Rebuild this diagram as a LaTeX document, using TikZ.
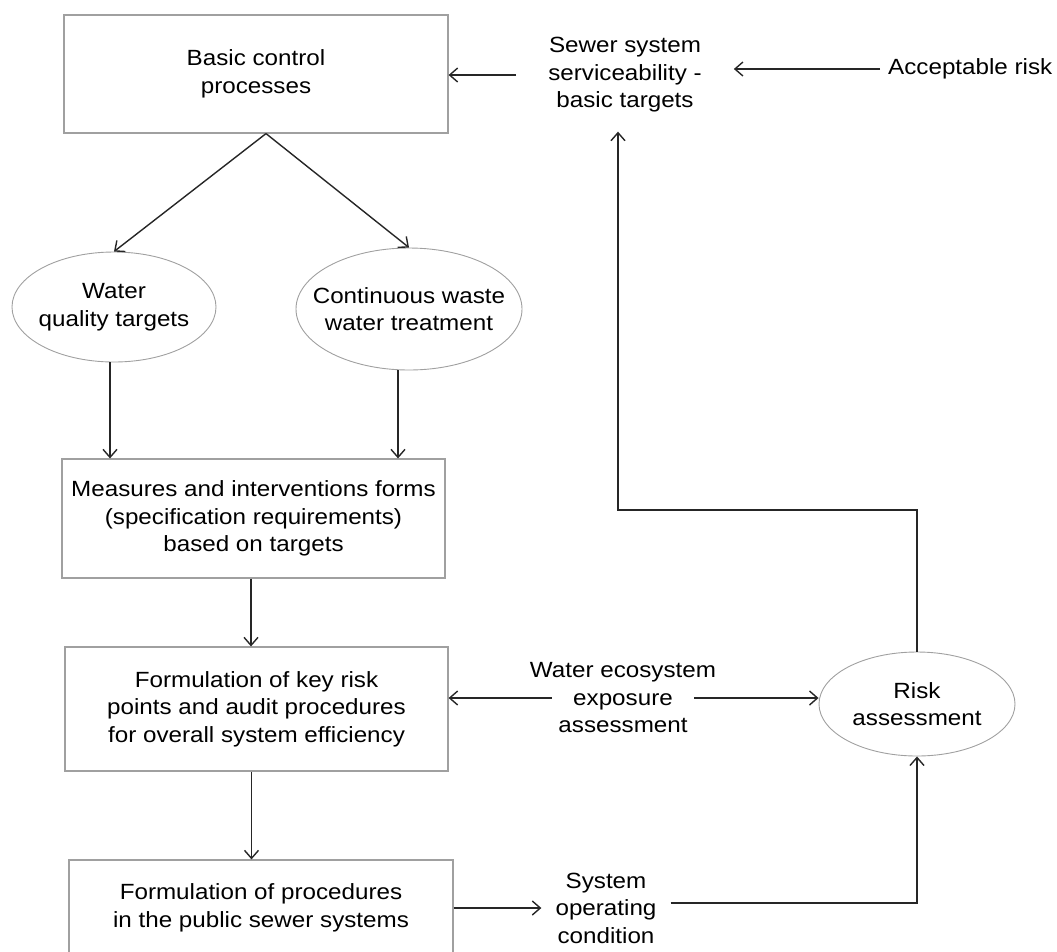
\documentclass[tikz,border=0pt]{standalone}
\usepackage{fontspec}
\setmainfont{Liberation Sans}[FakeStretch=1.1]
\usepackage{tikz}
\usetikzlibrary{arrows.meta, shapes.geometric}
\definecolor{boxgrey}{HTML}{A0A0A0}
\definecolor{arrgrey}{HTML}{262626}

\begin{document}
\begin{tikzpicture}[x=1pt, y=-1pt, font=\fontsize{22}{27.5}\selectfont,
    box/.style={draw=boxgrey, line width=1.2pt, align=center, inner sep=0pt},
    oval/.style={ellipse, draw=boxgrey, line width=0.9pt, align=center, inner xsep=-20pt, inner ysep=0pt},
    txt/.style={align=center, inner ysep=0pt},
    arr/.style={-{Straight Barb[length=8pt, width=14pt]}, line width=1.4pt, draw=arrgrey}]
      \useasboundingbox (0,0) rectangle (1057,951);
      \node[box, minimum width=384pt, minimum height=118pt] (bcp) at (256,74) {Basic control\\processes};
      \node[txt, inner xsep=32pt, inner ysep=19pt] (sew) at (625,75) {Sewer system\\serviceability -\\basic targets};
      \node[txt, anchor=west, inner xsep=8pt] (acc) at (880,69) {Acceptable risk};
      \node[oval, minimum width=204pt, minimum height=110pt] (wqt) at (114,307) {Water\\quality targets};
      \node[oval, minimum width=226pt, minimum height=122pt] (cwt) at (409,309) {Continuous waste\\water treatment};
      \node[box, minimum width=383pt, minimum height=119pt] (mif) at (253.5,518.5) {Measures and interventions forms\\(specification requirements)\\based on targets};
      \node[box, minimum width=383pt, minimum height=124pt] (krp) at (256.5,709) {Formulation of key risk\\points and audit procedures\\for overall system efficiency};
      \node[box, minimum width=384pt, minimum height=96pt] (fps) at (261,908) {Formulation of procedures\\in the public sewer systems};
      \node[txt, inner xsep=-22pt] (wea) at (623,698) {Water ecosystem\\exposure\\assessment};
      \node[oval, minimum width=196pt, minimum height=104pt] (rsk) at (917,704) {Risk\\assessment};
      \node[txt, inner xsep=14pt] (soc) at (606,908) {System\\operating\\condition};
      \coordinate (bend) at (618,510);
      \draw[arr] (sew.west) -- (sew.west -| bcp.east);
      \draw[arr] (acc.west) -- (acc.west -| sew.east);
      \draw[arr] ([xshift=10pt]bcp.south) -- (wqt.north);
      \draw[arr] ([xshift=10pt]bcp.south) -- (cwt.north);
      \draw[arr] ([xshift=-4pt]wqt.south) -- ([xshift=-4pt]wqt.south |- mif.north);
      \draw[arr] ([xshift=-11pt]cwt.south) -- ([xshift=-11pt]cwt.south |- mif.north);
      \draw[arr] ([xshift=-2.5pt]mif.south) -- ([xshift=-2.5pt]mif.south |- krp.north);
      \draw[arr] ([xshift=-5pt]krp.south) -- ([xshift=-5pt]krp.south |- fps.north);
      \draw[arr] (fps.east) -- (soc.west);
      \draw[arr] ([yshift=5pt]soc.east) -| (rsk.south);
      \draw[arr] (rsk.north) |- (bend) -- (bend |- sew.south);
      \draw[arr] (wea.west) -- (wea.west -| krp.east);
      \draw[arr] (wea.east) -- (wea.east -| rsk.west);
\end{tikzpicture}
\end{document}
